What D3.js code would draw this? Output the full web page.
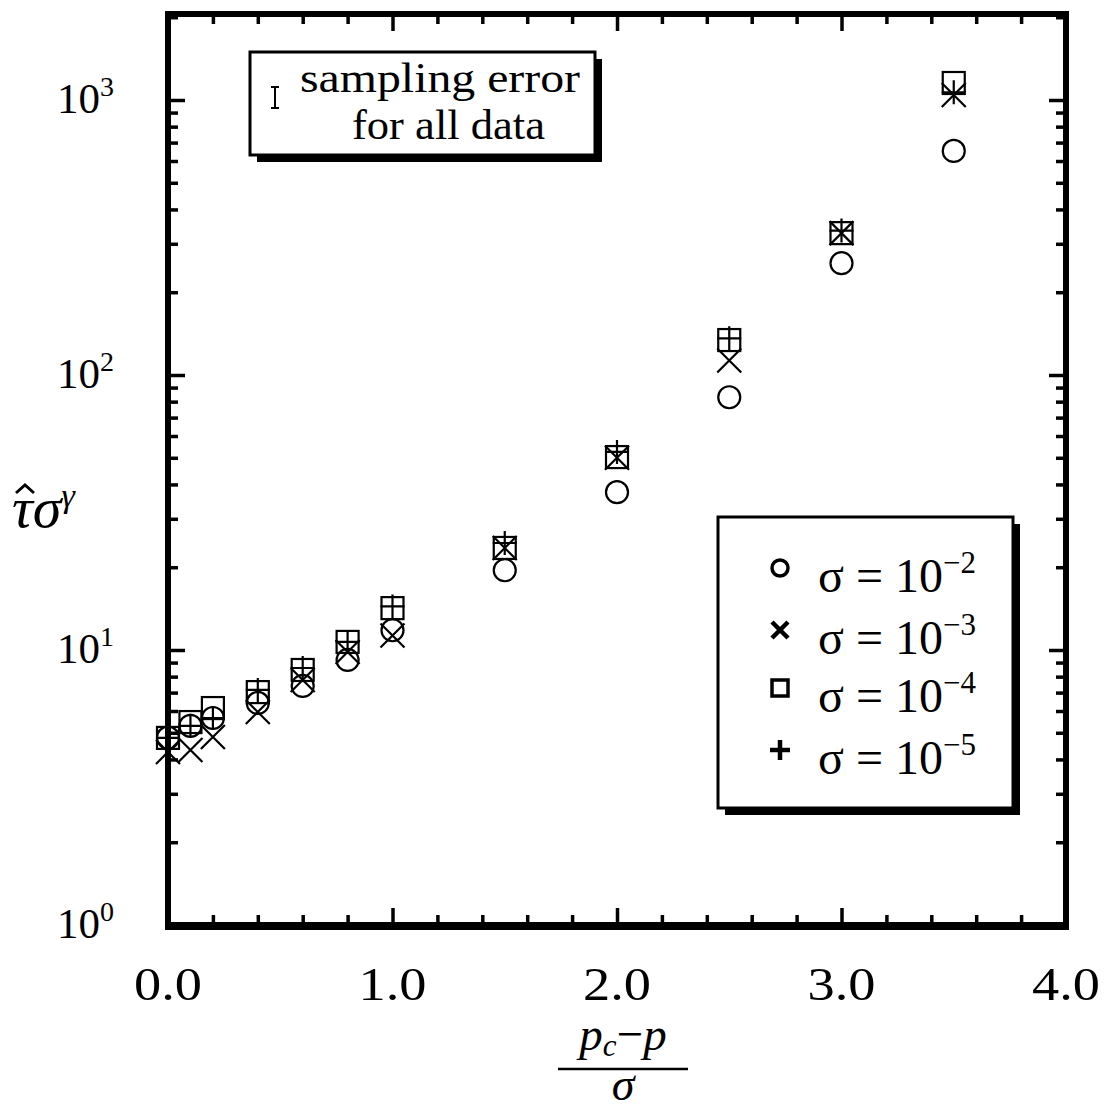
<!DOCTYPE html>
<html><head><meta charset="utf-8">
<script src="https://cdn.jsdelivr.net/npm/d3@7"></script>
<style>body{margin:0;background:#fff}svg text{font-family:"Liberation Serif","Times New Roman",serif;fill:#000}</style>
</head><body>
<svg id="c" width="1105" height="1114"></svg>
<script>
const xVals = [0, 0.1, 0.2, 0.4, 0.6, 0.8, 1.0, 1.5, 2.0, 2.5, 3.0, 3.5];
const sigma2 = [4.8, 5.3, 5.66, 6.42, 7.4, 9.2, 11.8, 19.5, 37.5, 83, 255, 653];
const sigma3 = [4.26, 4.33, 4.83, 5.95, 7.78, 9.84, 11.3, 23.5, 50, 113, 328, 1043];
const sigma4 = [4.79, 5.47, 6.15, 7.03, 8.46, 10.7, 14.2, 23.5, 50.3, 134, 328, 1153];
const sigma5 = [4.79, 5.3, 5.66, 7.16, 8.6, 10.7, 14.4, 24.5, 52.5, 136, 335, 1067];
const xTickLabels = ["0.0", "1.0", "2.0", "3.0", "4.0"];
const yTickExponents = ["0", "1", "2", "3"];
const legendExponents = ["\u22122", "\u22123", "\u22124", "\u22125"];

const svg = d3.select("#c");
const L = 168, R = 1066, T = 14, B = 925;
const x = d3.scaleLinear().domain([0, 4]).range([L, R]);
const y = d3.scaleLog().domain([1, Math.pow(10, (B - T) / 275)]).range([B, T]);

// ticks
const xMajor = [0, 1, 2, 3, 4];
const xMinor = d3.range(0.2, 4, 0.2).filter(v => Math.abs(v - Math.round(v)) > 1e-6);
const yMajor = [1, 10, 100, 1000];
const yMinor = [];
[1, 10, 100, 1000].forEach(d => { for (let k = 2; k <= 9; k++) if (d * k < y.domain()[1]) yMinor.push(d * k); });

function ax(gen, vals, size, tr) {
  const g = svg.append("g").attr("transform", tr)
    .call(gen.tickValues(vals).tickSize(size).tickFormat(""));
  g.select(".domain").remove();
  g.selectAll("line").attr("stroke", "#000").attr("stroke-width", 3.5);
}
ax(d3.axisBottom(x), xMajor, -17, `translate(0,${B})`);
ax(d3.axisBottom(x), xMinor, -10, `translate(0,${B})`);
ax(d3.axisTop(x), xMajor, -17, `translate(0,${T})`);
ax(d3.axisTop(x), xMinor, -10, `translate(0,${T})`);
ax(d3.axisLeft(y), yMajor, -17, `translate(${L},0)`);
ax(d3.axisLeft(y), yMinor, -10, `translate(${L},0)`);
ax(d3.axisRight(y), yMajor, -17, `translate(${R},0)`);
ax(d3.axisRight(y), yMinor, -10, `translate(${R},0)`);

// frame
svg.append("rect").attr("x", L).attr("y", T).attr("width", R - L).attr("height", B - T)
  .attr("fill", "none").attr("stroke", "#000").attr("stroke-width", 6);
svg.append("line").attr("x1", L - 3).attr("x2", R + 3).attr("y1", B + 1).attr("y2", B + 1)
  .attr("stroke", "#000").attr("stroke-width", 8);

// tick labels
svg.selectAll(".xl").data(xMajor).join("text").attr("class", "xl")
  .attr("x", d => x(d) - 34).attr("y", 1000)
  .attr("font-size", 47).attr("textLength", 68).attr("lengthAdjust", "spacingAndGlyphs")
  .text((d, i) => xTickLabels[i]);
const yl = svg.selectAll(".yl").data(yMajor).join("text").attr("class", "yl")
  .attr("x", 114).attr("y", d => y(d) + 13).attr("text-anchor", "end").attr("font-size", 43);
yl.append("tspan").text("10");
yl.append("tspan").attr("dy", -17).attr("font-size", 28).text((d, i) => yTickExponents[i]);

// markers
const sw = 2.2;
function circ(g, cx, cy) { g.append("circle").attr("cx", cx).attr("cy", cy).attr("r", 11).attr("fill", "none").attr("stroke", "#000").attr("stroke-width", sw); }
function cross(g, cx, cy, s, w) { g.append("path").attr("d", `M${cx-s},${cy-s}L${cx+s},${cy+s}M${cx-s},${cy+s}L${cx+s},${cy-s}`).attr("stroke", "#000").attr("stroke-width", w).attr("fill", "none"); }
function sq(g, cx, cy, s, w) { g.append("rect").attr("x", cx - s).attr("y", cy - s).attr("width", 2 * s).attr("height", 2 * s).attr("fill", "none").attr("stroke", "#000").attr("stroke-width", w); }
function plus(g, cx, cy, s, w) { g.append("path").attr("d", `M${cx-s},${cy}L${cx+s},${cy}M${cx},${cy-s}L${cx},${cy+s}`).attr("stroke", "#000").attr("stroke-width", w).attr("fill", "none"); }

const gm = svg.append("g");
xVals.forEach((xv, i) => {
  circ(gm, x(xv), y(sigma2[i]));
  cross(gm, x(xv), y(sigma3[i]), 12, sw);
  sq(gm, x(xv), y(sigma4[i]), 11, sw);
  plus(gm, x(xv), y(sigma5[i]), 12, sw);
});

// sampling-error box
function shadowBox(x0, y0, w, h) {
  svg.append("rect").attr("x", x0 + 7).attr("y", y0 + 7).attr("width", w).attr("height", h).attr("fill", "#000");
  svg.append("rect").attr("x", x0).attr("y", y0).attr("width", w).attr("height", h).attr("fill", "#fff").attr("stroke", "#000").attr("stroke-width", 3);
}
shadowBox(250, 52, 345, 103);
svg.append("path").attr("d", "M275,87L275,108M271,87L279,87M271,108L279,108").attr("stroke", "#000").attr("stroke-width", 2).attr("fill", "none");
svg.append("text").attr("x", 300).attr("y", 92).attr("font-size", 42)
  .attr("textLength", 280).attr("lengthAdjust", "spacingAndGlyphs").text("sampling error");
svg.append("text").attr("x", 352).attr("y", 139).attr("font-size", 42)
  .attr("textLength", 193).attr("lengthAdjust", "spacingAndGlyphs").text("for all data");

// series legend
shadowBox(718, 517, 295, 291);
const rows = [568, 630, 688, 750];
const lg = svg.append("g");
lg.append("circle").attr("cx", 780).attr("cy", rows[0]).attr("r", 8).attr("fill", "none").attr("stroke", "#000").attr("stroke-width", 3.5);
cross(lg, 780, rows[1], 8, 4.5);
sq(lg, 780, rows[2], 8, 3.5);
plus(lg, 780, rows[3], 10, 4.5);
const lt = svg.selectAll(".lt").data(legendExponents).join("text").attr("class", "lt")
  .attr("x", 818).attr("y", (d, i) => rows[i] + 24).attr("font-size", 48);
lt.append("tspan").text("\u03c3 = 10");
lt.append("tspan").attr("dy", -19).attr("font-size", 31).text(d => d);

// y-axis title
const yt = svg.append("text").attr("x", 12).attr("y", 527).attr("font-size", 58).attr("font-style", "italic");
yt.append("tspan").text("\u03c4\u03c3");
yt.append("tspan").attr("dy", -20).attr("font-size", 34).text("\u03b3");
svg.append("path").attr("d", "M16,493L25,485L34,493").attr("fill", "none").attr("stroke", "#000").attr("stroke-width", 3);

// x-axis title
const xt = svg.append("text").attr("x", 623).attr("y", 1050).attr("text-anchor", "middle").attr("font-size", 47).attr("font-style", "italic");
xt.append("tspan").text("p");
xt.append("tspan").attr("dy", 6).attr("font-size", 31).text("c");
xt.append("tspan").attr("dy", -6).attr("font-style", "normal").text("\u2212");
xt.append("tspan").text("p");
svg.append("line").attr("x1", 558).attr("x2", 688).attr("y1", 1069).attr("y2", 1069).attr("stroke", "#000").attr("stroke-width", 2.5);
svg.append("text").attr("x", 623).attr("y", 1100).attr("text-anchor", "middle").attr("font-size", 46).attr("font-style", "italic").text("\u03c3");
</script>
</body></html>
